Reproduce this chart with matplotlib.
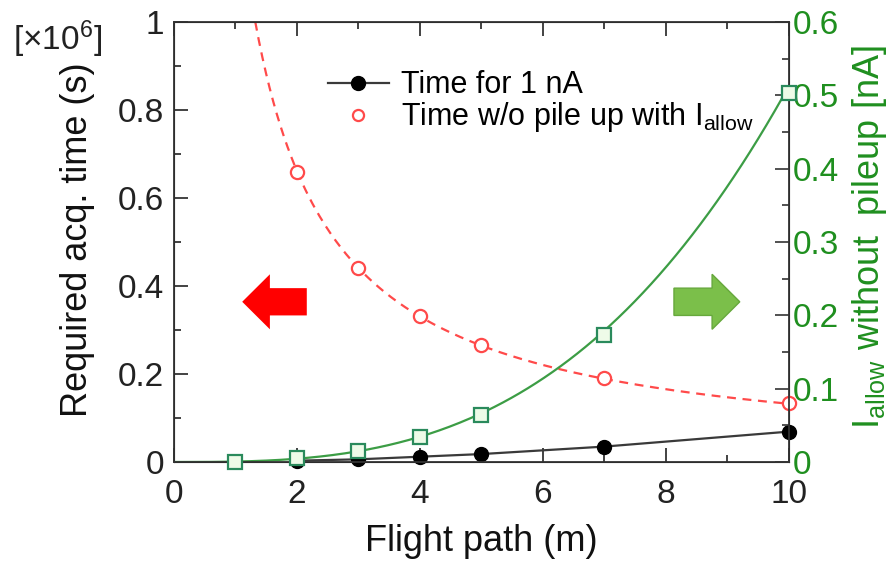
import numpy as np
import matplotlib
matplotlib.use("Agg")
import matplotlib.pyplot as plt
from matplotlib.lines import Line2D
from matplotlib.patches import FancyArrow
from matplotlib.ticker import MultipleLocator

plt.rcParams['font.family'] = ['Liberation Sans', 'DejaVu Sans']
plt.rcParams['mathtext.fontset'] = 'custom'
plt.rcParams['mathtext.rm'] = 'Liberation Sans'
plt.rcParams['mathtext.it'] = 'Liberation Sans:italic'

# flight path (m)
path_1na = [2, 3, 4, 5, 7, 10]
time_1na = [0.003, 0.006, 0.012, 0.018, 0.035, 0.069]   # x1e6 s

path_pile = [2, 3, 4, 5, 7, 10]
time_pile = [0.659, 0.441, 0.332, 0.266, 0.190, 0.134]  # x1e6 s

path_allow = [1, 2, 3, 4, 5, 7, 10]
i_allow = [0.0005, 0.0055, 0.0154, 0.034, 0.064, 0.173, 0.503]  # nA

RED = '#ff4a4a'
GREEN = '#1f8f1f'
LINE_GREEN = '#3c9d45'

fig = plt.figure(figsize=(8.92, 5.61), dpi=100)
ax = fig.add_axes([0.195, 0.1765, 0.6895, 0.7845])
ax2 = ax.twinx()

# 1 nA curve: straight segments between points
ax.plot(path_1na, time_1na, '-', color='#3a3a3a', lw=1.6, zorder=3)
ax.plot(path_1na, time_1na, 'o', color='black', ms=10, zorder=4, clip_on=False)

# pile-up limited time: a/L fit drawn dashed
xp = np.asarray(path_pile, float)
yp = np.asarray(time_pile, float)
a = np.sum(yp / xp) / np.sum(1.0 / xp ** 2)
xf = np.linspace(a / 1.0, 10, 300)
ax.plot(xf, a / xf, '--', color=RED, lw=1.6, dashes=(4, 3), zorder=2)
ax.plot(path_pile, time_pile, 'o', mfc='white', mec=RED, mew=1.6, ms=9.5,
        zorder=5, clip_on=False)

# allowed current: power-law fit a*L^n
xa = np.asarray(path_allow, float)
ya = np.asarray(i_allow, float)
n, loga = np.polyfit(np.log(xa), np.log(ya), 1)
xg = np.linspace(0, 10, 300)
ax2.plot(xg, np.exp(loga) * xg ** n, '-', color=LINE_GREEN, lw=1.6, zorder=2)
ax2.plot(path_allow, i_allow, 's', mfc='#eefbe8', mec='#2a8a5c', mew=1.6, ms=10.5,
         zorder=5, clip_on=False)

ax.set_xlim(0, 10)
ax.set_ylim(0, 1)
ax2.set_ylim(0, 0.6)

ax.xaxis.set_major_locator(MultipleLocator(2))
ax.xaxis.set_minor_locator(MultipleLocator(1))
ax.yaxis.set_major_locator(MultipleLocator(0.2))
ax.yaxis.set_minor_locator(MultipleLocator(0.1))
ax2.yaxis.set_major_locator(MultipleLocator(0.1))
ax2.yaxis.set_minor_locator(MultipleLocator(0.05))

ax.set_yticks([0, 0.2, 0.4, 0.6, 0.8, 1.0])
ax.set_yticklabels(['0', '0.2', '0.4', '0.6', '0.8', '1'])
ax2.set_yticks([0, 0.1, 0.2, 0.3, 0.4, 0.5, 0.6])
ax2.set_yticklabels(['0', '0.1', '0.2', '0.3', '0.4', '0.5', '0.6'])

ax.tick_params(which='both', direction='in', top=True, right=False,
               labelsize=24, colors='#222222')
ax.tick_params(axis='x', pad=12)
ax.tick_params(axis='y', pad=7)
ax.tick_params(which='major', length=10, width=1.2)
ax.tick_params(which='minor', length=5, width=1.2)
ax2.tick_params(which='both', direction='in', labelsize=24, pad=3,
                color='#333333', labelcolor=GREEN)
ax2.tick_params(which='major', length=10, width=1.2)
ax2.tick_params(which='minor', length=5, width=1.2)
for sp in ax2.spines.values():
    sp.set_color('#333333')
    sp.set_linewidth(1.3)

ax.set_xlabel('Flight path (m)', fontsize=26, color='#111111')
ax.set_ylabel('Required acq. time (s)', fontsize=26, color='#111111')
ax2.set_ylabel('I$_{\\mathrm{allow}}$ without  pileup [nA]', fontsize=26, color=GREEN)
ax.xaxis.set_label_coords(0.5, -0.142)
ax.yaxis.set_label_coords(-0.128, 0.505)
ax2.yaxis.set_label_coords(1.1, 0.51)

fig.text(0.015, 0.91, '[×10$^{6}$]', fontsize=24, color='#222222')

handles = [
    Line2D([], [], color='#3a3a3a', lw=1.6, marker='o', mfc='black', mec='black', ms=10),
    Line2D([], [], ls='none', marker='o', mfc='white', mec=RED, mew=1.6, ms=8),
]
ax.legend(handles, ['Time for 1 nA', 'Time w/o pile up with I$_{\\mathrm{allow}}$'],
          loc='upper left', bbox_to_anchor=(0.25, 0.89), frameon=False,
          fontsize=22, handlelength=2.0, handletextpad=0.4, labelspacing=0.0,
          borderpad=0, borderaxespad=0)

# direction arrows
ax.add_patch(FancyArrow(0.216, 0.364, -0.06, 0, width=0.062, head_width=0.125,
                        head_length=0.045, length_includes_head=False,
                        transform=ax.transAxes, color='#ff0000', lw=0))
ax.add_patch(FancyArrow(0.813, 0.364, 0.062, 0, width=0.062, head_width=0.125,
                        head_length=0.045, length_includes_head=False,
                        transform=ax.transAxes, fc='#7bbf4a', ec='#66a83c', lw=1))

fig.savefig('out.png', dpi=100)
